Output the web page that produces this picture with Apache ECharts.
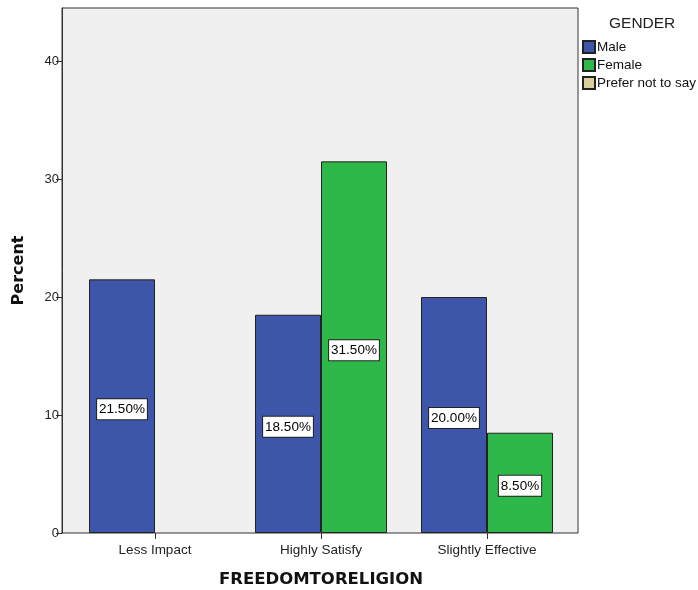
<!DOCTYPE html>
<html><head><meta charset="utf-8">
<script src="https://cdn.jsdelivr.net/npm/echarts@6/dist/echarts.min.js"></script>
<style>html,body{margin:0;padding:0;background:#fff}#c{width:698px;height:590px}</style>
</head><body><div id="c"></div>
<script>
const categories = ['Less Impact', 'Highly Satisfy', 'Slightly Effective'];
const male = [21.5, 18.5, 20.0];
const female = [null, 31.5, 8.5];
const preferNot = [];
const yTicks = [0, 10, 20, 30, 40];

const font = 'Liberation Sans, Arial, sans-serif';
const titleFont = 'DejaVu Sans, sans-serif';
const labelStyle = {
  show: true, position: 'inside', offset: [0, 3], color: '#000', fontFamily: font, fontSize: 13.5, lineHeight: 15,
  backgroundColor: '#fff', borderColor: '#222', borderWidth: 1, padding: [3, 2, 2, 2],
  formatter: p => p.value == null ? '' : p.value.toFixed(2) + '%'
};
const chart = echarts.init(document.getElementById('c'));
chart.setOption({
  animation: false,
  title: { text: 'GENDER', left: 604, top: 11, textStyle: { fontFamily: font, fontSize: 15.5, fontWeight: 'normal', color: '#222' } },
  legend: {
    orient: 'vertical', left: 577, top: 35, itemWidth: 12, itemHeight: 12, itemGap: 4,
    icon: 'rect', textStyle: { fontFamily: font, fontSize: 13.5, color: '#111', padding: [0, 0, 0, -3] },
    data: ['Male', 'Female', 'Prefer not to say']
  },
  grid: [
    { left: 62, top: 8, width: 516, height: 525, show: true, backgroundColor: '#f0f0f0', borderColor: '#333', borderWidth: 1, outerBoundsMode: 'none', containLabel: false },
    { left: 72, top: 8, width: 498, height: 525, outerBoundsMode: 'none', containLabel: false }
  ],
  xAxis: [
    { gridIndex: 0, type: 'category', data: categories, show: false },
    { gridIndex: 1, type: 'category', data: categories,
      axisLine: { show: false }, axisTick: { show: true, alignWithLabel: true, length: 6, lineStyle: { color: '#333' } },
      axisLabel: { fontFamily: font, fontSize: 13.5, color: '#222', margin: 10 },
      name: 'FREEDOMTORELIGION', nameLocation: 'middle', nameGap: 38,
      nameTextStyle: { fontFamily: titleFont, fontSize: 16.5, fontWeight: 'bold', color: '#111' } }
  ],
  yAxis: [
    { gridIndex: 0, type: 'value', min: 0, max: 44.5, interval: 10,
      axisLine: { show: true, lineStyle: { color: '#333' } },
      axisTick: { show: true, length: 6, customValues: yTicks, lineStyle: { color: '#333' } },
      axisLabel: { fontFamily: font, fontSize: 13, color: '#222', margin: 3, customValues: yTicks },
      splitLine: { show: false },
      name: 'Percent', nameLocation: 'middle', nameGap: 35,
      nameTextStyle: { fontFamily: titleFont, fontSize: 16, fontWeight: 'bold', color: '#111' } },
    { gridIndex: 1, type: 'value', min: 0, max: 44.5, show: false, splitLine: { show: false } }
  ],
  series: [
    { name: 'Male', type: 'bar', xAxisIndex: 1, yAxisIndex: 1, data: male, barWidth: 66, barGap: '0%',
      itemStyle: { color: '#3d56a9', borderColor: '#222', borderWidth: 1 }, label: labelStyle },
    { name: 'Female', type: 'bar', xAxisIndex: 1, yAxisIndex: 1, data: female, barWidth: 66, barGap: '0%',
      itemStyle: { color: '#2eb84a', borderColor: '#222', borderWidth: 1 }, label: labelStyle },
    { name: 'Prefer not to say', type: 'bar', xAxisIndex: 0, yAxisIndex: 0, data: preferNot,
      itemStyle: { color: '#d8cf9c', borderColor: '#222', borderWidth: 1 } }
  ]
});
</script></body></html>
